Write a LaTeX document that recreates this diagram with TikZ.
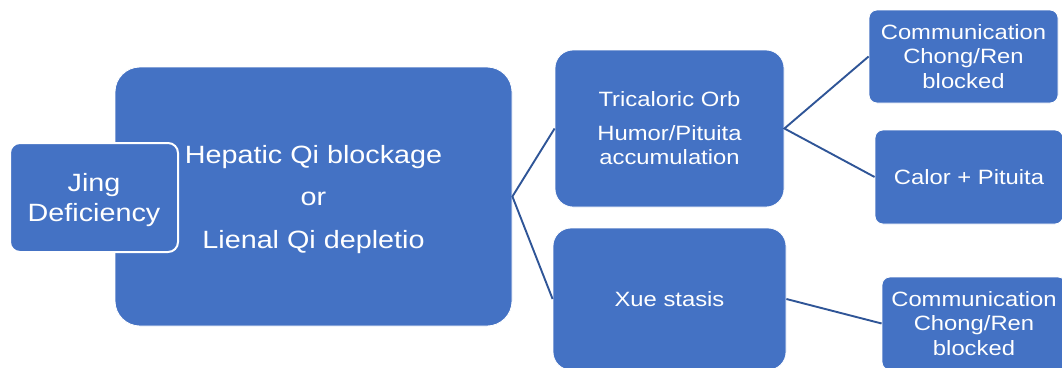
\documentclass[tikz,border=0pt]{standalone}
\usepackage{fontspec}
\setmainfont{Liberation Sans}[FakeStretch=1.15]
\definecolor{boxblue}{HTML}{4472C4}
\definecolor{linkblue}{HTML}{2F5597}
\begin{document}
\begin{tikzpicture}[x=1pt,y=-1pt,
  box/.style={rectangle, fill=boxblue, draw=white, line width=0.8pt,
    text=white, align=center, inner sep=0pt},
  words/.style={text=white, align=center, inner sep=0pt},
  big/.style={font=\fontsize{25}{42.5}\selectfont},
  small/.style={font=\fontsize{20.7}{24.5}\selectfont},
  link/.style={draw=linkblue, line width=1.9pt}]
\useasboundingbox (0,0) rectangle (1062,367);

% main cause and the deficiency box laid over it
\node[box, rounded corners=25pt, minimum width=397pt, minimum height=259pt]
  (main) at (313.5,196.5) {};
\node[words, big] (maintext) at ([yshift=-3pt]main.center)
  {Hepatic Qi blockage\\or\\Lienal Qi depletio};
\node[box, rounded corners=10pt, line width=2pt, minimum width=168pt, minimum height=109pt]
  (jing) at (94,197.5) {};
\node[words, font=\fontsize{25}{30}\selectfont] (jingtext) at ([yshift=-3pt]jing.center)
  {Jing\\Deficiency};

% second level
\node[box, small, rounded corners=18pt, minimum width=229pt, minimum height=157pt]
  (tri) at (669.5,128.5) {Tricaloric Orb\\[9pt]Humor/Pituita\\accumulation};
\node[box, small, rounded corners=18pt, minimum width=233pt, minimum height=142pt]
  (xue) at (669.5,299) {Xue stasis};

% third level
\node[box, small, rounded corners=8pt, minimum width=189pt, minimum height=93pt]
  (comm1) at (963.5,56.5) {Communication\\Chong/Ren\\blocked};
\node[box, small, rounded corners=8pt, minimum width=188pt, minimum height=94pt]
  (calor) at (969,177) {Calor + Pituita};
\node[box, small, rounded corners=8pt, minimum width=184pt, minimum height=93pt]
  (comm2) at (974,323.5) {Communication\\Chong/Ren\\blocked};

% connectors
\draw[link] (tri.west) -- (main.east) -- (xue.west);
\draw[link] (comm1.west) -- (tri.east) -- (calor.west);
\draw[link] (xue.east) -- (comm2.west);
\end{tikzpicture}
\end{document}
